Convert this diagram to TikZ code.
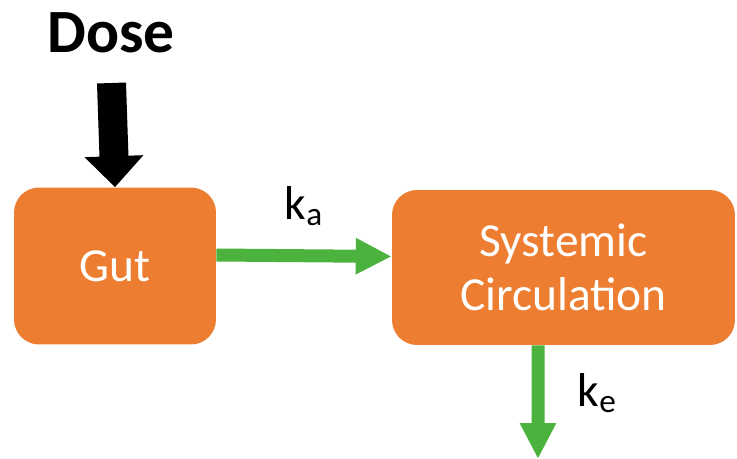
\documentclass[tikz,border=0pt]{standalone}
\usepackage{fontspec}
\setmainfont{Carlito}
\usepackage{xcolor}
\usetikzlibrary{arrows.meta, calc, positioning}

\definecolor{boxorange}{RGB}{237,125,49}
\definecolor{rategreen}{RGB}{76,178,62}

\begin{document}
\begin{tikzpicture}[x=0.02cm, y=-0.02cm,
        comp/.style={rectangle, rounded corners=0.5cm, fill=boxorange, text=white,
            align=center, font=\fontsize{27}{31}\selectfont},
        rate/.style={draw=rategreen, line width=0.26cm,
            -{Triangle[length=0.72cm, width=0.68cm]}},
        ratelbl/.style={font=\fontsize{27}{31}\selectfont}]
    \useasboundingbox (0,0) rectangle (737,459);

    % compartments
    \node[comp, minimum width=4.04cm, minimum height=3.14cm] (gut) at (115,266) {Gut};
    \node[comp, minimum width=6.86cm, minimum height=3.1cm] (sys) at (563.5,267.5)
        {Systemic\\Circulation};

    % dose input
    \node[font=\fontsize{35}{40}\selectfont\bfseries] (dose) at (111,33) {Dose};
    \coordinate (dosetail) at (111.5,83);
    \draw[line width=0.58cm, -{Triangle[length=0.62cm, width=1.14cm]}] (dosetail) -- (gut.north);

    % absorption and elimination
    \draw[rate] ([yshift=0.22cm]gut.east) -- ([yshift=0.22cm]sys.west)
        node[ratelbl, midway, above=0.35cm] (ka) {k\textsubscript{a}};
    \coordinate (out) at (538,459);
    \draw[rate] ([xshift=-0.51cm]sys.south) -- (out)
        node[ratelbl, pos=0.42, right=0.55cm] (ke) {k\textsubscript{e}};
\end{tikzpicture}
\end{document}
